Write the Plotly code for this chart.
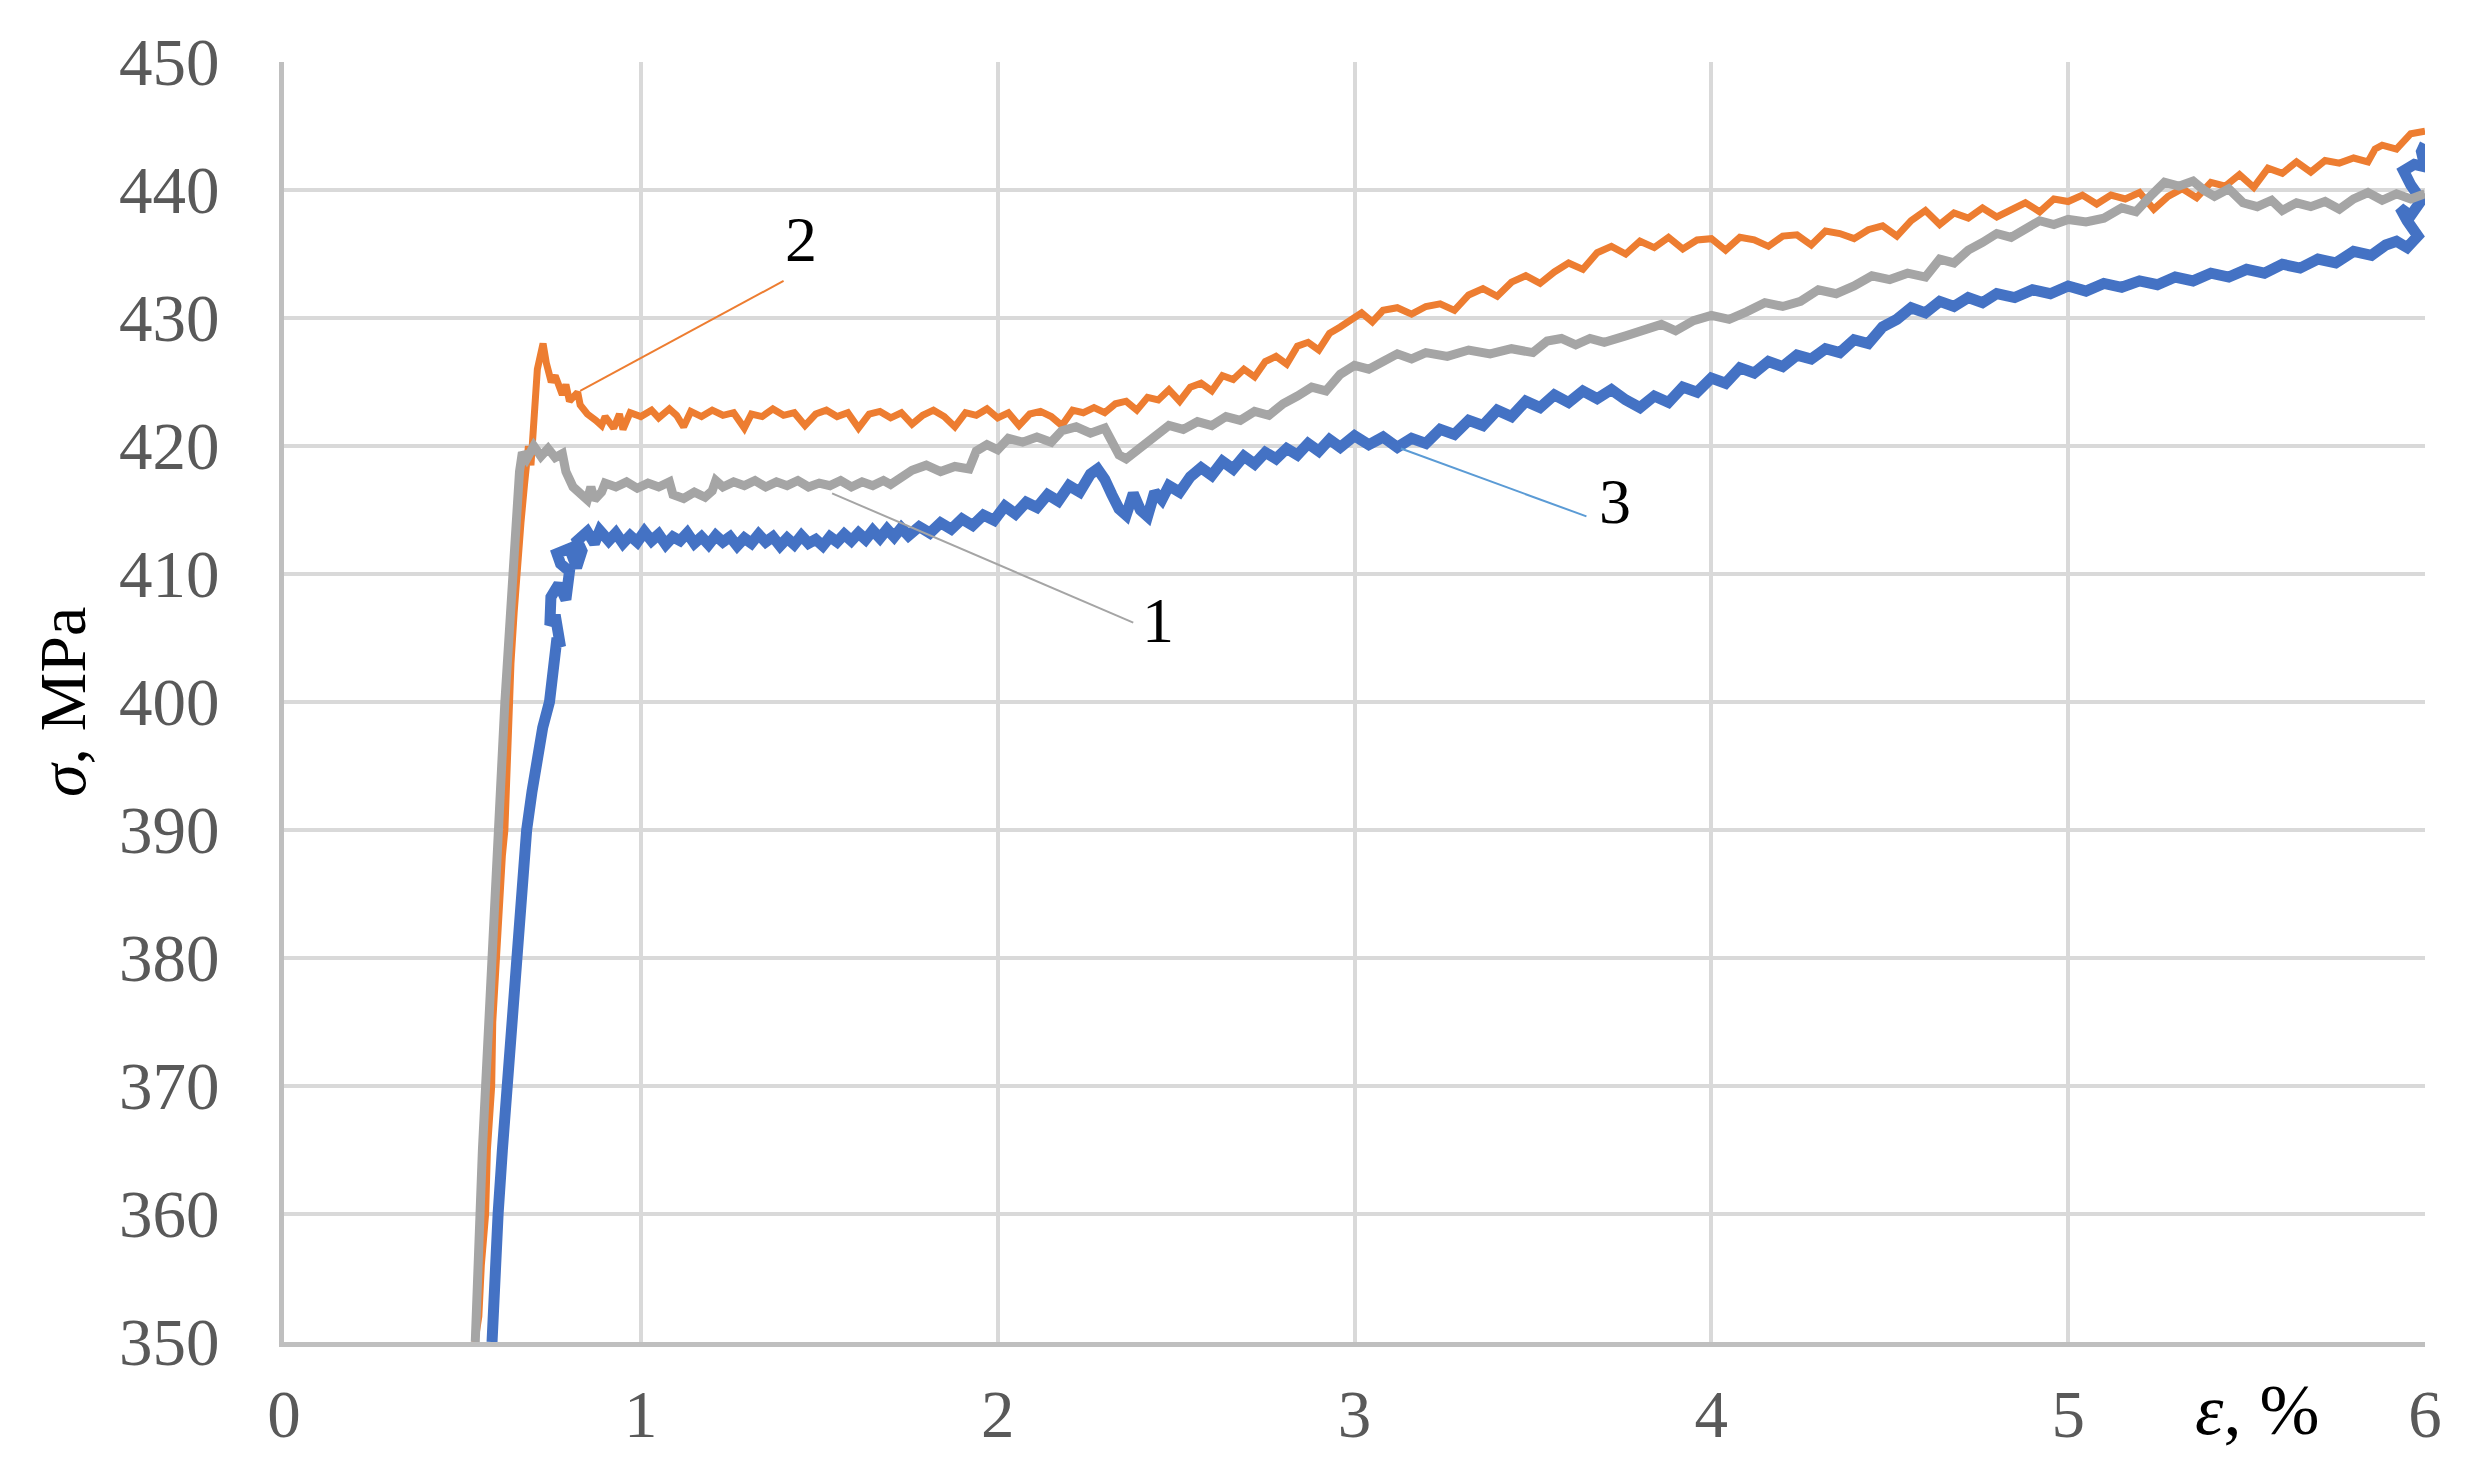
import plotly.graph_objects as go

# curve 1 (grey), curve 2 (orange), curve 3 (blue): strain, % / stress, MPa
strain_1 = [
    0.536, 0.540, 0.545, 0.550, 0.556, 0.565, 0.575, 0.586, 0.592, 0.600,
    0.610, 0.619, 0.630, 0.644, 0.651, 0.660, 0.668, 0.680, 0.700, 0.720,
    0.740, 0.760, 0.780, 0.790, 0.810, 0.830, 0.850, 0.860, 0.870, 0.890,
    0.900, 0.930, 0.960, 0.990, 1.020, 1.050, 1.080, 1.090, 1.120, 1.150,
    1.180, 1.200, 1.210, 1.230, 1.260, 1.290, 1.320, 1.350, 1.380, 1.410,
    1.440, 1.470, 1.500, 1.530, 1.560, 1.590, 1.620, 1.650, 1.680, 1.700,
    1.730, 1.760, 1.800, 1.840, 1.880, 1.920, 1.940, 1.970, 2.000, 2.030,
    2.070, 2.110, 2.150, 2.180, 2.220, 2.260, 2.300, 2.320, 2.340, 2.360,
    2.390, 2.420, 2.450, 2.480, 2.520, 2.560, 2.600, 2.640, 2.680, 2.720,
    2.760, 2.800, 2.840, 2.880, 2.920, 2.960, 3.000, 3.040, 3.080, 3.120,
    3.160, 3.200, 3.260, 3.320, 3.380, 3.440, 3.500, 3.540, 3.580, 3.620,
    3.660, 3.700, 3.760, 3.820, 3.860, 3.900, 3.950, 4.000, 4.050, 4.100,
    4.150, 4.200, 4.250, 4.300, 4.350, 4.400, 4.450, 4.500, 4.550, 4.600,
    4.640, 4.680, 4.720, 4.760, 4.800, 4.840, 4.880, 4.920, 4.960, 5.000,
    5.050, 5.100, 5.150, 5.190, 5.230, 5.270, 5.310, 5.350, 5.380, 5.410,
    5.450, 5.490, 5.530, 5.570, 5.600, 5.640, 5.680, 5.720, 5.760, 5.800,
    5.840, 5.880, 5.920, 5.960, 6.000,
]
stress_1 = [
    350.0, 354.0, 357.0, 360.0, 365.0, 370.0, 375.0, 380.0, 385.0, 390.0,
    395.0, 400.0, 405.0, 410.0, 415.0, 418.0, 419.5, 419.0, 420.0, 419.2,
    419.8, 419.1, 419.4, 418.0, 416.8, 416.3, 415.8, 416.8, 415.8, 416.4,
    417.1, 416.8, 417.2, 416.7, 417.1, 416.8, 417.2, 416.2, 415.9, 416.4,
    416.0, 416.5, 417.3, 416.8, 417.2, 416.9, 417.3, 416.8, 417.2, 416.9,
    417.3, 416.8, 417.1, 416.9, 417.3, 416.8, 417.2, 416.9, 417.3, 417.0,
    417.5, 418.1, 418.5, 418.0, 418.4, 418.2, 419.6, 420.1, 419.7, 420.6,
    420.3, 420.7, 420.3, 421.2, 421.5, 421.0, 421.4, 420.2, 419.3, 419.0,
    419.6, 420.3, 421.0, 421.6, 421.3, 421.9, 421.6, 422.3, 422.0, 422.7,
    422.4, 423.3, 423.9, 424.6, 424.3, 425.6, 426.3, 426.0, 426.6, 427.2,
    426.8, 427.3, 427.0, 427.5, 427.2, 427.6, 427.3, 428.2, 428.4, 427.9,
    428.4, 428.1, 428.6, 429.2, 429.5, 429.0, 429.8, 430.2, 429.9, 430.5,
    431.2, 430.9, 431.3, 432.2, 431.9, 432.5, 433.3, 433.0, 433.5, 433.2,
    434.6, 434.3, 435.3, 435.9, 436.6, 436.3, 437.0, 437.6, 437.3, 437.7,
    437.5, 437.8, 438.6, 438.3, 439.5, 440.6, 440.3, 440.7, 440.0, 439.5,
    440.1, 439.0, 438.7, 439.2, 438.4, 439.0, 438.7, 439.1, 438.5, 439.3,
    439.8, 439.2, 439.7, 439.3, 439.7,
]

strain_2 = [
    0.535, 0.546, 0.553, 0.565, 0.570, 0.582, 0.585, 0.596, 0.600, 0.612,
    0.619, 0.624, 0.629, 0.636, 0.645, 0.652, 0.664, 0.674, 0.685, 0.692,
    0.700, 0.710, 0.726, 0.735, 0.749, 0.760, 0.780, 0.790, 0.800, 0.823,
    0.830, 0.850, 0.874, 0.890, 0.900, 0.924, 0.940, 0.950, 0.970,
    1.00, 1.03, 1.05, 1.08, 1.10, 1.12, 1.14, 1.17, 1.20, 1.23,
    1.26, 1.29, 1.31, 1.34, 1.37, 1.40, 1.43, 1.46, 1.49, 1.52,
    1.55, 1.58, 1.61, 1.64, 1.67, 1.70, 1.73, 1.76, 1.79, 1.82,
    1.85, 1.88, 1.91, 1.94, 1.97, 2.00, 2.03, 2.06, 2.09, 2.12,
    2.15, 2.18, 2.21, 2.24, 2.27, 2.30, 2.33, 2.36, 2.39, 2.42,
    2.45, 2.48, 2.51, 2.54, 2.57, 2.60, 2.63, 2.66, 2.69, 2.72,
    2.75, 2.78, 2.81, 2.84, 2.87, 2.90, 2.93, 2.96, 2.99, 3.02,
    3.05, 3.08, 3.12, 3.16, 3.20, 3.24, 3.28, 3.32, 3.36, 3.40,
    3.44, 3.48, 3.52, 3.56, 3.60, 3.64, 3.68, 3.72, 3.76, 3.80,
    3.84, 3.88, 3.92, 3.96, 4.00, 4.04, 4.08, 4.12, 4.16, 4.20,
    4.24, 4.28, 4.32, 4.36, 4.40, 4.44, 4.48, 4.52, 4.56, 4.60,
    4.64, 4.68, 4.72, 4.76, 4.80, 4.84, 4.88, 4.92, 4.96, 5.00,
    5.04, 5.08, 5.12, 5.16, 5.20, 5.24, 5.28, 5.32, 5.36, 5.40,
    5.44, 5.48, 5.52, 5.56, 5.60, 5.64, 5.68, 5.72, 5.76, 5.80,
    5.84, 5.86, 5.88, 5.92, 5.96, 6.00,
]
stress_2 = [
    350.0, 352.0, 356.0, 360.0, 365.0, 370.0, 375.0, 380.0, 384.0, 388.0,
    390.0, 395.0, 400.0, 403.0, 407.0, 410.0, 414.0, 417.0, 420.0, 418.5,
    423.0, 426.0, 428.0, 426.5, 425.0, 425.5, 424.0, 424.8, 423.5, 424.2,
    423.2, 422.5, 422.0, 421.6, 422.3, 421.4, 422.5, 421.3, 422.6,
    422.3, 422.8, 422.2, 422.9, 422.4, 421.5, 422.7, 422.3, 422.8, 422.4,
    422.6, 421.4, 422.5, 422.3, 422.9, 422.4, 422.6, 421.6, 422.5, 422.8,
    422.3, 422.6, 421.4, 422.5, 422.7, 422.2, 422.6, 421.7, 422.4, 422.8,
    422.3, 421.5, 422.6, 422.4, 422.9, 422.2, 422.6, 421.6, 422.5, 422.7,
    422.3, 421.6, 422.8, 422.6, 423.0, 422.6, 423.3, 423.5, 422.8, 423.8,
    423.6, 424.4, 423.5, 424.6, 424.9, 424.3, 425.5, 425.2, 426.0, 425.4,
    426.6, 427.0, 426.4, 427.8, 428.1, 427.5, 428.8, 429.3, 429.8, 430.4,
    429.7, 430.6, 430.8, 430.3, 430.9, 431.1, 430.6, 431.8, 432.3, 431.7,
    432.8, 433.3, 432.7, 433.6, 434.3, 433.8, 435.1, 435.6, 435.0, 436.0,
    435.5, 436.3, 435.4, 436.1, 436.2, 435.3, 436.3, 436.1, 435.6, 436.4,
    436.5, 435.7, 436.8, 436.6, 436.2, 436.9, 437.2, 436.4, 437.6, 438.4,
    437.3, 438.2, 437.8, 438.6, 437.9, 438.4, 439.0, 438.3, 439.3, 439.1,
    439.6, 438.9, 439.6, 439.3, 439.8, 438.5, 439.5, 440.1, 439.4, 440.6,
    440.3, 441.2, 440.2, 441.7, 441.3, 442.2, 441.4, 442.3, 442.1, 442.5,
    442.2, 443.2, 443.5, 443.2, 444.4, 444.6,
]

strain_3 = [
    0.583, 0.590, 0.600, 0.612, 0.626, 0.636, 0.648, 0.662, 0.680, 0.695,
    0.710, 0.725, 0.744, 0.752, 0.765, 0.775, 0.760, 0.745, 0.748, 0.770,
    0.790, 0.800, 0.775, 0.765, 0.800, 0.820, 0.835, 0.822, 0.850, 0.870,
    0.885, 0.91, 0.93, 0.95, 0.97, 0.99, 1.01, 1.03, 1.05, 1.07,
    1.09, 1.11, 1.13, 1.15, 1.17, 1.19, 1.21, 1.23, 1.25, 1.27,
    1.29, 1.31, 1.33, 1.35, 1.37, 1.39, 1.41, 1.43, 1.45, 1.47,
    1.49, 1.51, 1.53, 1.55, 1.57, 1.59, 1.61, 1.63, 1.65, 1.67,
    1.69, 1.71, 1.73, 1.75, 1.78, 1.81, 1.84, 1.87, 1.90, 1.93,
    1.96, 1.99, 2.02, 2.05, 2.08, 2.11, 2.14, 2.17, 2.20, 2.23,
    2.26, 2.28, 2.30, 2.32, 2.34, 2.36, 2.38, 2.40, 2.42, 2.44,
    2.46, 2.48, 2.51, 2.54, 2.57, 2.60, 2.63, 2.66, 2.69, 2.72,
    2.75, 2.78, 2.81, 2.84, 2.87, 2.90, 2.93, 2.96, 3.00, 3.04,
    3.08, 3.12, 3.16, 3.20, 3.24, 3.28, 3.32, 3.36, 3.40, 3.44,
    3.48, 3.52, 3.56, 3.60, 3.64, 3.68, 3.72, 3.76, 3.80, 3.84,
    3.88, 3.92, 3.96, 4.00, 4.04, 4.08, 4.12, 4.16, 4.20, 4.24,
    4.28, 4.32, 4.36, 4.40, 4.44, 4.48, 4.52, 4.56, 4.60, 4.64,
    4.68, 4.72, 4.76, 4.80, 4.85, 4.90, 4.95, 5.00, 5.05, 5.10,
    5.15, 5.20, 5.25, 5.30, 5.35, 5.40, 5.45, 5.50, 5.55, 5.60,
    5.65, 5.70, 5.75, 5.80, 5.85, 5.89, 5.92, 5.95, 5.98, 5.95,
    5.93, 5.96, 5.99, 5.96, 5.94, 5.97, 6.00, 5.99, 6.00,
]
stress_3 = [
    350.0, 355.0, 360.0, 365.0, 370.0, 375.0, 380.0, 385.0, 390.0, 393.0,
    396.0, 398.0, 400.0, 402.5, 405.0, 404.3, 406.8, 406.0, 408.2, 409.2,
    408.0, 410.2, 410.8, 411.6, 412.0, 410.5, 411.8, 412.6, 413.3, 412.4,
    413.4, 412.6, 413.2, 412.4, 413.0, 412.5, 413.3, 412.6, 413.1, 412.3,
    412.9, 412.6, 413.2, 412.4, 412.9, 412.3, 413.0, 412.5, 412.9, 412.2,
    412.8, 412.4, 413.1, 412.5, 412.9, 412.2, 412.8, 412.3, 413.0, 412.4,
    412.7, 412.2, 412.9, 412.5, 413.1, 412.6, 413.2, 412.7, 413.4, 412.8,
    413.5, 412.9, 413.6, 413.0, 413.7, 413.2, 414.0, 413.5, 414.3, 413.8,
    414.6, 414.2, 415.3, 414.7, 415.6, 415.2, 416.2, 415.7, 416.9, 416.4,
    417.8, 418.2, 417.4, 416.2, 415.1, 414.6, 416.3, 415.0, 414.5, 416.4,
    415.8, 416.9, 416.4, 417.6, 418.3, 417.7, 418.8, 418.2, 419.2, 418.6,
    419.5, 419.0, 419.8, 419.3, 420.2, 419.6, 420.5, 419.9, 420.8, 420.1,
    420.7, 419.9, 420.6, 420.2, 421.3, 420.9, 422.0, 421.6, 422.8, 422.3,
    423.5, 423.0, 424.0, 423.4, 424.3, 423.7, 424.4, 423.6, 423.0, 423.9,
    423.4, 424.6, 424.2, 425.3, 424.9, 426.1, 425.7, 426.6, 426.2, 427.1,
    426.8, 427.6, 427.3, 428.3, 428.0, 429.3, 429.9, 430.8, 430.4, 431.3,
    430.9, 431.6, 431.2, 431.9, 431.6, 432.2, 431.9, 432.5, 432.1, 432.7,
    432.4, 432.9, 432.6, 433.2, 432.9, 433.5, 433.2, 433.8, 433.5, 434.2,
    433.9, 434.6, 434.3, 435.2, 434.9, 435.7, 436.0, 435.5, 436.4, 437.6,
    438.6, 438.0, 439.2, 440.4, 441.5, 442.0, 441.8, 443.0, 443.6,
]

curve_labels = ["1", "2", "3"]
label_x = [2.45, 1.45, 3.73]
label_y = [406.4, 436.1, 415.7]
# leader lines: (x0, y0, x1, y1)
leaders = [
    (1.536, 416.3, 2.38, 406.2),
    (0.83, 424.3, 1.40, 432.9),
    (3.13, 419.8, 3.65, 414.5),
]
leader_colors = ["#A5A5A5", "#ED7D31", "#5B9BD5"]

x_ticks = [0, 1, 2, 3, 4, 5, 6]
y_ticks = [350, 360, 370, 380, 390, 400, 410, 420, 430, 440, 450]

FONT = "Liberation Serif, Times New Roman, serif"

fig = go.Figure()

fig.add_trace(go.Scatter(x=strain_2, y=stress_2, mode="lines",
                         line={"color": "#ED7D31", "width": 7}, name="2"))
fig.add_trace(go.Scatter(x=strain_3, y=stress_3, mode="lines",
                         line={"color": "#4472C4", "width": 11}, name="3"))
fig.add_trace(go.Scatter(x=strain_1, y=stress_1, mode="lines",
                         line={"color": "#A5A5A5", "width": 9}, name="1"))

for (x0, y0, x1, y1), c in zip(leaders, leader_colors):
    fig.add_shape(type="line", x0=x0, y0=y0, x1=x1, y1=y1,
                  line={"color": c, "width": 2}, layer="above")

for t, x, y in zip(curve_labels, label_x, label_y):
    fig.add_annotation(x=x, y=y, text=t, showarrow=False,
                       font={"family": FONT, "size": 64, "color": "black"})

# axis titles placed like in the original
fig.add_annotation(xref="paper", yref="paper", x=-0.1037, y=0.5,
                   xanchor="center", yanchor="middle",
                   text="<i>σ</i>, MPa", textangle=-90, showarrow=False,
                   font={"family": FONT, "size": 66, "color": "black"})
fig.add_annotation(xref="paper", yref="paper", x=0.9215, y=-0.053,
                   xanchor="center", yanchor="middle",
                   text="<i>ε</i>, %", showarrow=False,
                   font={"family": FONT, "size": 72, "color": "black"})

# page has an 8 px body margin, so shift the plot box up/left by that much
fig.update_layout(
    width=2474,
    height=1481,
    plot_bgcolor="white",
    paper_bgcolor="white",
    showlegend=False,
    margin={"l": 276, "r": 57, "t": 54, "b": 147, "pad": 0},
    xaxis={
        "range": [0, 6],
        "tickvals": x_ticks,
        "ticktext": [str(v) for v in x_ticks],
        "showgrid": True,
        "gridcolor": "#D9D9D9",
        "gridwidth": 4,
        "zeroline": False,
        "showline": True,
        "linecolor": "#BFBFBF",
        "linewidth": 5,
        "ticks": "",
        "ticklabelstandoff": 10,
        "tickfont": {"family": FONT, "size": 67, "color": "#595959"},
    },
    yaxis={
        "range": [350, 450],
        "tickvals": y_ticks,
        "ticktext": [str(v) for v in y_ticks],
        "showgrid": True,
        "gridcolor": "#D9D9D9",
        "gridwidth": 4,
        "zeroline": False,
        "showline": True,
        "linecolor": "#BFBFBF",
        "linewidth": 5,
        "ticks": "",
        "ticklabelstandoff": 46,
        "tickfont": {"family": FONT, "size": 67, "color": "#595959"},
    },
)

fig.write_html("out.html")
